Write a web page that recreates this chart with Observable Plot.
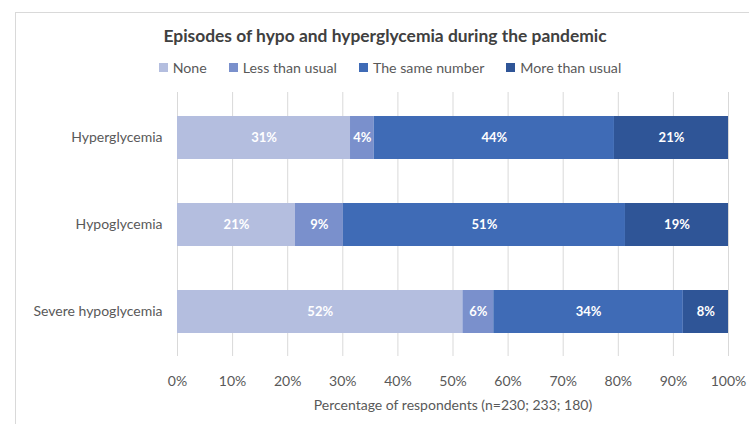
<!DOCTYPE html>
<html>
<head>
<meta charset="utf-8">
<script src="https://cdn.jsdelivr.net/npm/d3@7"></script>
<script src="https://cdn.jsdelivr.net/npm/@observablehq/plot@0.6"></script>
<style>
  html, body { margin: 0; padding: 0; background: #fff; }
  body { width: 749px; height: 424px; position: relative; overflow: hidden; font-family: Lato, "Open Sans", sans-serif; }
  #frame { position: absolute; left: 15px; top: 12px; right: -2px; bottom: -2px; border-left: 1px solid #d9d9d9; border-top: 1px solid #d9d9d9; }
  #title { position: absolute; top: 25px; left: 0; width: 770px; text-align: center; font-weight: bold; font-size: 17.4px; color: #404040; }
  #legend { position: absolute; top: 59px; left: 0; width: 780px; display: flex; justify-content: center; gap: 22px; font-size: 14.2px; color: #595959; }
  #legend span.sw { display: inline-block; width: 9px; height: 9px; margin-right: 5px; vertical-align: 1px; }
  #chart { position: absolute; top: 80px; left: 0; }
</style>
</head>
<body>
<div id="frame"></div>
<div id="title">Episodes of hypo and hyperglycemia during the pandemic</div>
<div id="legend"></div>
<div id="chart"></div>
<script>
const categories = ["Hyperglycemia", "Hypoglycemia", "Severe hypoglycemia"];
const series = ["None", "Less than usual", "The same number", "More than usual"];
const colors = ["#b4bedf", "#7a90cc", "#3f6bb6", "#2f5597"];
const noneVals = [31.4, 21.4, 51.8];
const lessVals = [4.3, 8.7, 5.6];
const sameVals = [43.6, 51.2, 34.4];
const moreVals = [20.7, 18.7, 8.2];
const noneLabels = ["31%", "21%", "52%"];
const lessLabels = ["4%", "9%", "6%"];
const sameLabels = ["44%", "51%", "34%"];
const moreLabels = ["21%", "19%", "8%"];
const xTicks = [0, 10, 20, 30, 40, 50, 60, 70, 80, 90, 100];
const xLabel = "Percentage of respondents (n=230; 233; 180)";

const valueSets = [noneVals, lessVals, sameVals, moreVals];
const labelSets = [noneLabels, lessLabels, sameLabels, moreLabels];
const data = [];
categories.forEach((c, i) => {
  series.forEach((s, j) => {
    data.push({cat: c, series: s, value: valueSets[j][i], label: labelSets[j][i]});
  });
});

const legend = document.getElementById("legend");
series.forEach((s, j) => {
  const item = document.createElement("div");
  item.innerHTML = `<span class="sw" style="background:${colors[j]}"></span>${s}`;
  legend.appendChild(item);
});

const chart = Plot.plot({
  width: 749,
  height: 344,
  marginLeft: 177,
  marginRight: 21,
  marginTop: 12,
  marginBottom: 68,
  style: {fontFamily: "Lato, 'Open Sans', sans-serif", fontSize: "14px", color: "#595959", background: "transparent"},
  x: {domain: [0, 100], ticks: xTicks, tickFormat: d => d + "%"},
  y: {domain: categories, paddingInner: 0.506, paddingOuter: 0.27},
  color: {domain: series, range: colors},
  marks: [
    Plot.gridX(xTicks, {stroke: "#d9d9d9", strokeOpacity: 1, strokeWidth: 1}),
    Plot.barX(data, Plot.stackX({x: "value", y: "cat", z: "series", fill: "series", order: series})),
    Plot.text(data, Plot.stackX({x: "value", y: "cat", z: "series", order: series, text: "label", fill: "white", fontWeight: "bold", fontSize: 13})),
    Plot.axisX({ticks: xTicks, tickFormat: d => d + "%", tickSize: 0, tickPadding: 20, fontSize: 14, label: xLabel, labelAnchor: "center", labelArrow: "none", labelOffset: 53}),
    Plot.axisY({tickSize: 0, tickPadding: 15, fontSize: 14, label: null})
  ]
});
document.getElementById("chart").appendChild(chart);
</script>
</body>
</html>
